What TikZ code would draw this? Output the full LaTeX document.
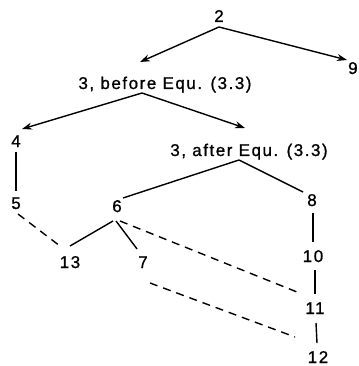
\documentclass[tikz,border=0pt]{standalone}
\usepackage{fontspec}
\setmainfont{Liberation Sans}
\newfontfamily\labfont[LetterSpace=9,FakeBold=1]{Liberation Sans}
\usetikzlibrary{calc,arrows.meta}
\begin{document}
\begin{tikzpicture}[x=1pt,y=-1pt,
  lab/.style={inner sep=0pt,text height=12pt,text depth=0pt,font=\labfont\fontsize{17}{17}\selectfont},
  conn/.style={line width=1.4pt},
  arr/.style={conn,-{Stealth[length=10pt,width=7pt]}},
  dsh/.style={conn,dash pattern=on 8pt off 6pt}]
\useasboundingbox (0,0) rectangle (358,366);
\node[lab] (n2) at (219,16) {2};
\node[lab,anchor=west] (n9) at (348,68) {9};
\node[lab] (nb) at (165,83) {3, before Equ. (3.3)};
\node[lab] (n4) at (16,141) {4};
\node[lab] (na) at (249,150) {3, after Equ. (3.3)};
\node[lab] (n5) at (16,203) {5};
\node[lab] (n6) at (117,206) {6};
\node[lab] (n8) at (312,200) {8};
\node[lab] (n13) at (70,262) {13};
\node[lab] (n7) at (143,262) {7};
\node[lab] (n10) at (313,256) {10};
\node[lab] (n11) at (315,308) {11};
\node[lab] (n12) at (318,357) {12};
\draw[arr] ($(n2)+(0,11)$) -- ($(nb)+(-25,-21)$);
\draw[arr] ($(n2)+(0,11)$) -- ($(n9.west)+(-1,-8)$);
\draw[arr] ($(nb)+(-23,10)$) -- ($(n4)+(6,-12)$);
\draw[arr] ($(nb)+(-23,10)$) -- ($(na)+(-4,-22)$);
\draw[conn] ($(na)+(-10,10)$) -- ($(n6)+(6,-8)$);
\draw[conn] ($(na)+(-10,10)$) -- ($(n8)+(-9,-8)$);
\draw[conn] ($(n4)+(0,11)$) -- ($(n5)+(0,-12)$);
\draw[dsh] ($(n5)+(2,11)$) -- ($(n13)+(-10,-16)$);
\draw[conn] ($(n6)+(-4,15)$) -- ($(n13)+(0,-16)$);
\draw[conn] ($(n6)+(-1,15)$) -- ($(n7)+(-6,-13)$);
\draw[dsh] ($(n6)+(3,15)$) -- ($(n11)+(-18,-16)$);
\draw[dsh] ($(n7)+(7,21)$) -- ($(n12)+(-23,-20)$);
\draw[conn] ($(n8)+(1,13)$) -- ($(n10)+(0,-14)$);
\draw[conn] ($(n10)+(2,14)$) -- ($(n11)+(0,-14)$);
\draw[conn] ($(n11)+(1,15)$) -- ($(n12)+(-1,-14)$);
\end{tikzpicture}
\end{document}
